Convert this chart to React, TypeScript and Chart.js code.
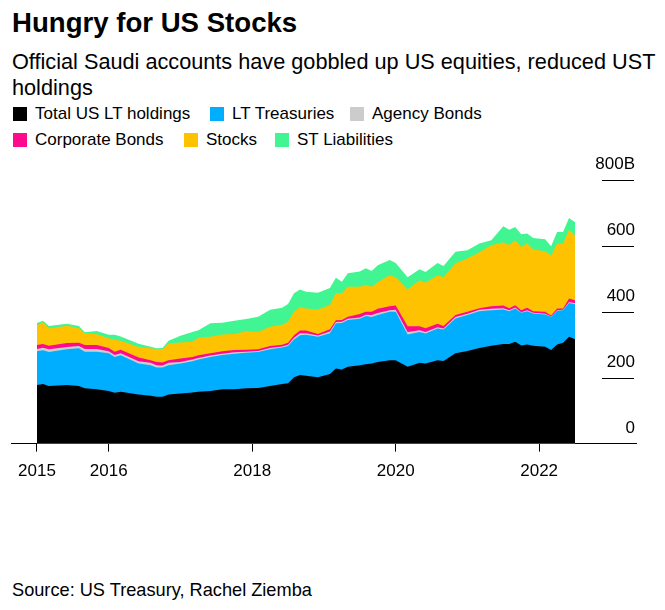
import React, { useEffect, useRef } from 'react';
import { Chart, registerables } from 'chart.js';

Chart.register(...registerables);

// ---- Data (billions of USD; visible layer thicknesses, monthly readings) ----
const months = [
  '2015-01', '2015-02', '2015-03', '2015-06', '2015-08', '2015-09', '2015-11',
  '2016-01', '2016-02', '2016-03', '2016-06', '2016-08', '2016-09', '2016-10', '2016-11',
  '2017-01', '2017-03', '2017-04', '2017-06', '2017-08', '2017-10', '2017-12',
  '2018-02', '2018-04', '2018-06', '2018-07', '2018-08', '2018-09', '2018-10', '2018-12',
  '2019-02', '2019-03', '2019-04', '2019-05', '2019-07', '2019-08', '2019-09', '2019-10', '2019-12',
  '2020-01', '2020-03', '2020-05', '2020-06', '2020-08', '2020-09', '2020-11',
  '2021-01', '2021-03', '2021-05', '2021-07', '2021-08', '2021-09', '2021-10', '2021-11', '2021-12',
  '2022-02', '2022-03', '2022-04', '2022-05', '2022-06', '2022-07',
];

const totalLT = [
  178, 181, 175, 178, 175, 168, 165,
  160, 154, 157, 149, 145, 142, 142, 149,
  152, 155, 157, 160, 165, 165, 168,
  169, 175, 181, 183, 201, 208, 206, 201,
  211, 228, 225, 233, 238, 241, 243, 248, 253,
  253, 233, 245, 243, 253, 251, 274,
  281, 290, 297, 302, 302, 309, 298, 301, 297,
  294, 284, 301, 306, 324, 317,
];

const ltTreasuries = [
  102, 102, 103, 108, 114, 111, 114,
  114, 109, 111, 94, 93, 89, 89, 89,
  91, 95, 98, 103, 104, 108, 108,
  109, 111, 111, 113, 115, 121, 124, 123,
  124, 137, 141, 142, 141, 146, 141, 142, 147,
  147, 98, 94, 91, 96, 95, 106,
  109, 112, 108, 105, 100, 101, 99, 101, 98,
  98, 101, 102, 99, 103, 106,
];

const agencyBonds = [
  7, 8, 8, 7, 7, 8, 8,
  6, 6, 6, 7, 7, 7, 6, 7,
  5, 5, 5, 4, 4, 4, 3,
  3, 4, 3, 4, 5, 6, 5, 4,
  5, 4, 4, 4, 4, 4, 6, 6, 5,
  6, 8, 5, 5, 4, 3, 4,
  4, 4, 4, 4, 3, 3, 2, 3, 2,
  2, 1, 2, 1, 3, 3,
];

const corporateBonds = [
  12, 11, 11, 12, 10, 12, 12,
  10, 10, 11, 11, 8, 10, 9, 8,
  10, 8, 8, 7, 7, 7, 6,
  5, 6, 5, 6, 8, 8, 8, 5,
  7, 5, 5, 6, 10, 9, 10, 13, 12,
  13, 17, 12, 11, 11, 8, 6,
  6, 5, 8, 8, 6, 7, 6, 7, 5,
  6, 3, 5, 4, 10, 9,
];

const stocks = [
  60, 66, 52, 53, 44, 36, 33,
  30, 36, 27, 32, 36, 38, 41, 51,
  49, 46, 53, 50, 51, 49, 56,
  53, 59, 61, 64, 71, 71, 67, 74,
  74, 83, 81, 91, 83, 81, 76, 81, 94,
  86, 112, 140, 138, 147, 148, 157,
  162, 170, 185, 192, 192, 197, 192, 196, 187,
  184, 182, 197, 197, 209, 197,
];

const stLiabilities = [
  7, 5, 8, 6, 7, 3, 10,
  10, 15, 13, 10, 5, 3, 3, 8,
  20, 30, 23, 41, 36, 40, 37,
  46, 51, 51, 54, 56, 54, 51, 51,
  51, 46, 35, 41, 46, 51, 48, 51, 46,
  43, 37, 33, 33, 37, 34, 35,
  25, 26, 15, 49, 46, 40, 38, 30, 35,
  36, 28, 35, 35, 36, 40,
];

const seriesNames = [
  'Total US LT holdings',
  'LT Treasuries',
  'Agency Bonds',
  'Corporate Bonds',
  'Stocks',
  'ST Liabilities',
];
const seriesColors = ['#000000', '#00aeff', '#cccccc', '#ff0a8c', '#ffc200', '#42f593'];
const seriesValues = [totalLT, ltTreasuries, agencyBonds, corporateBonds, stocks, stLiabilities];

const yTickValues = [0, 200, 400, 600, 800];
const yTickLabels = ['0', '200', '400', '600', '800B'];
const xTickYears = [2015, 2016, 2018, 2020, 2022];

const FONT = '"Liberation Sans", Arial, Helvetica, sans-serif';

function toYear(m: string): number {
  const [y, mo] = m.split('-').map(Number);
  return y + (mo - 1) / 12;
}

const rightAxisPlugin = {
  id: 'rightAxisLabels',
  afterDraw(chart: any) {
    const { ctx, chartArea, scales } = chart;
    const yScale = scales.y;
    ctx.save();
    ctx.font = `17px ${FONT}`;
    ctx.fillStyle = '#000';
    ctx.strokeStyle = '#000';
    ctx.lineWidth = 1;
    ctx.textAlign = 'right';
    ctx.textBaseline = 'alphabetic';
    yTickValues.forEach((v, i) => {
      const py = yScale.getPixelForValue(v);
      if (v !== 0) {
        const yy = Math.round(py) + 0.5;
        ctx.beginPath();
        ctx.moveTo(chartArea.right - 34, yy);
        ctx.lineTo(chartArea.right - 2, yy);
        ctx.stroke();
      }
      ctx.fillText(yTickLabels[i], chartArea.right - 1, py - 11);
    });
    ctx.restore();
  },
};

function StackedChart() {
  const ref = useRef<HTMLCanvasElement | null>(null);
  useEffect(() => {
    if (!ref.current) return;
    const datasets = seriesValues.map((vals, k) => ({
      label: seriesNames[k],
      data: months.map((m, i) => ({ x: toYear(m), y: vals[i] })),
      backgroundColor: seriesColors[k],
      borderColor: 'rgba(0,0,0,0)',
      borderWidth: 0,
      pointRadius: 0,
      pointHoverRadius: 0,
      tension: 0,
      fill: 'origin',
    }));
    const chart = new Chart(ref.current, {
      type: 'line',
      data: { datasets },
      options: {
        animation: false,
        responsive: false,
        maintainAspectRatio: false,
        events: [],
        layout: { padding: { left: 2, right: 21, top: 30, bottom: 10 } },
        plugins: {
          legend: { display: false },
          tooltip: { enabled: false },
          title: { display: false },
        },
        scales: {
          x: {
            type: 'linear',
            position: 'bottom',
            min: 2014.64,
            max: 2023.35,
            afterBuildTicks: (s: any) => {
              s.ticks = xTickYears.map((v) => ({ value: v }));
            },
            ticks: {
              callback: (v: any) => String(v),
              font: { size: 17, family: FONT },
              color: '#000',
              padding: 10,
              maxRotation: 0,
              autoSkip: false,
            },
            grid: {
              drawOnChartArea: false,
              drawTicks: true,
              tickLength: 8,
              color: '#000',
              lineWidth: 1,
            },
            border: { display: true, color: '#000', width: 1 },
          },
          y: {
            type: 'linear',
            display: false,
            stacked: true,
            min: 0,
            max: 800,
          },
        },
      },
      plugins: [rightAxisPlugin],
    });
    return () => chart.destroy();
  }, []);
  return (
    <canvas
      ref={ref}
      width={649}
      height={352}
      style={{ position: 'absolute', left: 0, top: 142, width: 649, height: 352 }}
    />
  );
}

export default function App() {
  const legendRows = [
    [0, 1, 2],
    [3, 4, 5],
  ];
  const legendLefts = [
    [5, 202, 342],
    [5, 176, 267],
  ];
  const legendTops = [96, 122];
  return (
    <div
      style={{
        position: 'relative',
        width: 649,
        height: 594,
        fontFamily: FONT,
        color: '#000',
      }}
    >
      <div
        style={{
          position: 'absolute',
          left: 4,
          top: -1,
          fontSize: 27.6,
          lineHeight: '32px',
          fontWeight: 700,
          whiteSpace: 'nowrap',
        }}
      >
        Hungry for US Stocks
      </div>
      <div
        style={{
          position: 'absolute',
          left: 4,
          top: 41,
          width: 648,
          fontSize: 21.7,
          lineHeight: '26px',
        }}
      >
        Official Saudi accounts have gobbled up US equities, reduced UST holdings
      </div>
      {legendRows.map((row, r) =>
        row.map((k, j) => (
          <div
            key={k}
            style={{
              position: 'absolute',
              left: legendLefts[r][j],
              top: legendTops[r],
              height: 20,
              display: 'flex',
              alignItems: 'center',
              fontSize: 17,
              lineHeight: '20px',
              whiteSpace: 'nowrap',
            }}
          >
            <span
              style={{
                display: 'inline-block',
                width: 14,
                height: 14,
                background: seriesColors[k],
                marginRight: 8,
              }}
            />
            <span>{seriesNames[k]}</span>
          </div>
        ))
      )}
      <StackedChart />
      <div
        style={{
          position: 'absolute',
          left: 4,
          top: 571,
          fontSize: 18.2,
          lineHeight: '22px',
          whiteSpace: 'nowrap',
        }}
      >
        Source: US Treasury, Rachel Ziemba
      </div>
    </div>
  );
}
